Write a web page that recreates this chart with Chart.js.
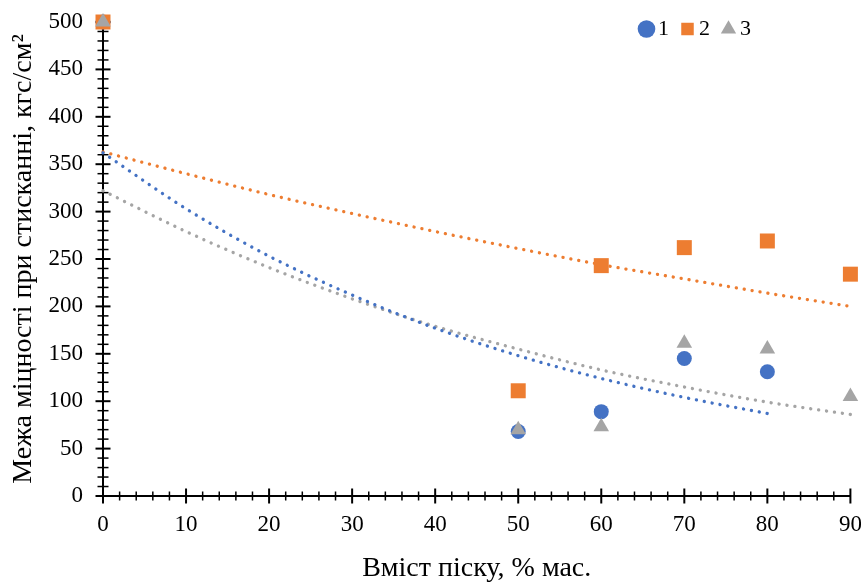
<!DOCTYPE html>
<html>
<head>
<meta charset="utf-8">
<script src="https://cdn.jsdelivr.net/npm/chart.js@4.4.0/dist/chart.umd.min.js"></script>
<style>
html,body{margin:0;padding:0;background:#ffffff;}
canvas{display:block;}
</style>
</head>
<body>
<canvas id="c" width="861" height="585"></canvas>
<script>
// ---- data ----
const seriesLabels = ['1', '2', '3'];
const x1 = [0, 50, 60, 70, 80];
const y1 = [500, 68, 89, 145, 131];
const x2 = [0, 50, 60, 70, 80, 90];
const y2 = [500, 111, 243, 262, 269, 234];
const x3 = [0, 50, 60, 70, 80, 90];
const y3 = [500, 70, 73, 161, 155, 105];
// dotted trend lines, read at each 10 units
const trendX = [0, 10, 20, 30, 40, 50, 60, 70, 80, 90];
const trend1 = [362, 303, 253, 212, 177, 148, 124, 104, 87];
const trend2 = [363, 340, 318, 298, 279, 261, 244, 229, 214, 200];
const trend3 = [322, 279, 241, 208, 179, 155, 133, 115, 99, 86];
const xTitle = 'Вміст піску, % мас.';
const yTitle = 'Межа міцності при стисканні, кгс/см²';
const xMin = 0, xMax = 90, xStep = 10, xMinorStep = 2;
const yMin = 0, yMax = 500, yStep = 50, yMinorStep = 10;

const colors = ['#4472C4', '#ED7D31', '#A5A5A5'];
const FONT = 'Liberation Serif, Times New Roman, serif';
const pts = (xs, ys) => ys.map((v, i) => ({ x: xs[i], y: v }));

const crossTicks = {
  id: 'crossTicks',
  beforeDatasetsDraw(chart) {
    const { ctx, scales: { x, y } } = chart;
    const ax = x.getPixelForValue(xMin);
    const ay = y.getPixelForValue(yMin);
    ctx.save();
    ctx.strokeStyle = '#000';
    const nx = Math.round((xMax - xMin) / xMinorStep);
    for (let i = 0; i <= nx; i++) {
      const v = xMin + i * xMinorStep;
      const major = Math.abs((v - xMin) % xStep) < 1e-9;
      const px = x.getPixelForValue(v);
      const len = major ? 7.5 : 4.5;
      ctx.lineWidth = major ? 2 : 1.5;
      ctx.beginPath(); ctx.moveTo(px, ay - len); ctx.lineTo(px, ay + len); ctx.stroke();
    }
    const ny = Math.round((yMax - yMin) / yMinorStep);
    for (let i = 0; i <= ny; i++) {
      const v = yMin + i * yMinorStep;
      const major = Math.abs((v - yMin) % yStep) < 1e-9;
      const py = y.getPixelForValue(v);
      const len = major ? 7.5 : 5.5;
      ctx.lineWidth = major ? 2 : 1.5;
      ctx.beginPath(); ctx.moveTo(ax - len, py); ctx.lineTo(ax + len, py); ctx.stroke();
    }
    ctx.restore();
  }
};

const LDX = -82, LDY = 28;
const legendShift = {
  id: 'legendShift',
  afterLayout(chart) {
    const l = chart.legend;
    if (!l) return;
    l.left += LDX; l.right += LDX;
    l.top += LDY; l.bottom += LDY;
  }
};

const pointDs = (i, xs, ys, style, r, order) => ({
  label: seriesLabels[i],
  data: pts(xs, ys),
  pointStyle: style,
  pointRadius: r,
  pointHoverRadius: r,
  backgroundColor: colors[i],
  borderColor: colors[i],
  borderWidth: 0,
  pointBorderWidth: 0,
  showLine: false,
  order: order,
  clip: false
});
const trendDs = (i, ys) => ({
  label: 'trend ' + seriesLabels[i],
  isTrend: true,
  data: pts(trendX, ys),
  showLine: true,
  borderColor: colors[i],
  backgroundColor: colors[i],
  borderWidth: 3.3,
  borderDash: [0.1, 7.9],
  borderCapStyle: 'round',
  pointRadius: 0,
  pointHoverRadius: 0,
  cubicInterpolationMode: 'monotone',
  fill: false,
  order: 10 + i,
  clip: false
});

new Chart(document.getElementById('c'), {
  type: 'scatter',
  data: {
    datasets: [
      pointDs(0, x1, y1, 'circle', 7.5, 3),
      pointDs(1, x2, y2, 'rect', 10.6, 2),
      pointDs(2, x3, y3, 'triangle', 9, 1),
      trendDs(0, trend1),
      trendDs(1, trend2),
      trendDs(2, trend3)
    ]
  },
  options: {
    responsive: false,
    animation: false,
    events: [],
    layout: { padding: { top: -28, right: 10, bottom: 0, left: 0 } },
    plugins: {
      tooltip: { enabled: false },
      legend: {
        display: true,
        position: 'top',
        align: 'end',
        labels: {
          usePointStyle: true,
          boxWidth: 1,
          boxHeight: 12.5,
          padding: 18,
          color: '#000',
          font: { family: FONT, size: 22 },
          filter: (item, data) => !data.datasets[item.datasetIndex].isTrend,
          sort: (a, b) => a.datasetIndex - b.datasetIndex
        }
      }
    },
    scales: {
      x: {
        type: 'linear',
        min: xMin, max: xMax,
        afterFit(s) { s.height = 89; s.paddingLeft = 0; s.paddingRight = 0; },
        grid: { display: false, drawTicks: false, tickLength: 0 },
        border: { display: true, color: '#000', width: 2 },
        ticks: { stepSize: xStep, padding: 15, color: '#000', font: { family: FONT, size: 23 }, maxRotation: 0, autoSkip: false },
        title: { display: true, text: xTitle, color: '#000', font: { family: FONT, size: 28 }, padding: { top: 0, bottom: 0 } }
      },
      y: {
        type: 'linear',
        min: yMin, max: yMax,
        afterFit(s) { s.width = 103; s.paddingTop = 0; s.paddingBottom = 0; },
        grid: { display: false, drawTicks: false, tickLength: 0 },
        border: { display: true, color: '#000', width: 2 },
        ticks: { stepSize: yStep, padding: 20, color: '#000', font: { family: FONT, size: 23 }, autoSkip: false },
        title: { display: true, text: yTitle, color: '#000', font: { family: FONT, size: 28 }, padding: { top: 7, bottom: 0 } }
      }
    }
  },
  plugins: [crossTicks, legendShift]
});
</script>
</body>
</html>
